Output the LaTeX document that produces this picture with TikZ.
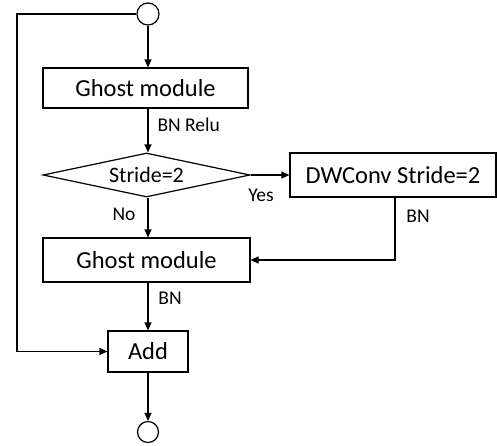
\documentclass[tikz,border=0pt]{standalone}
\usepackage{fontspec}
\setmainfont{Carlito}
\usetikzlibrary{shapes.geometric,arrows.meta}
\begin{document}
\begin{tikzpicture}[x=1pt,y=-1pt,
  line width=1.2pt,
  arr/.style={-{Triangle[length=8pt,width=7pt]}},
  blk/.style={draw,rectangle,inner sep=0pt,font=\fontsize{24.5}{28}\selectfont},
  term/.style={draw,circle,inner sep=0pt},
  lbl/.style={font=\fontsize{19.5}{22}\selectfont,inner sep=0pt}]
\useasboundingbox (0,0) rectangle (497,445);

% terminals and blocks
\node[term,minimum size=22pt] (top) at (148,14) {};
\node[blk,minimum width=205pt,minimum height=40pt] (g1) at (145.5,88) {Ghost module};
\node[draw,diamond,aspect=4.7,inner sep=0pt,minimum width=207pt,minimum height=44pt,
      font=\fontsize{22}{26}\selectfont] (dia) at (146.5,175) {Stride=2};
\node[blk,minimum width=206pt,minimum height=44pt] (dw) at (393,175) {DWConv Stride=2};
\node[blk,minimum width=207pt,minimum height=44pt] (g2) at (146.5,260) {Ghost module};
\node[blk,minimum width=80pt,minimum height=41pt] (add) at (148,351.5) {Add};
\node[term,minimum size=21pt] (bot) at (148,432) {};

% shortcut path
\coordinate (lft) at (17,14);
\draw[arr] (top.west) -- (lft) |- (add.west);

% main path
\draw[arr] (top) -- (g1.north -| top);
\draw[arr] (g1.south -| top) -- (dia.north -| top);
\node[lbl,anchor=west] (l1) at (157,125) {BN Relu};
\draw[arr] (dia.east) -- (dw.west);
\node[lbl] (l2) at (261,195) {Yes};
\draw[arr] (dia.south -| top) -- (g2.north -| top);
\node[lbl] (l3) at (124,214) {No};
\draw[arr] ([xshift=2pt]dw.south) |- (g2.east);
\node[lbl] (l4) at (418,216) {BN};
\draw[arr] (g2.south -| top) -- (add.north);
\node[lbl] (l5) at (170,298) {BN};
\draw[arr] (add) -- (bot);
\end{tikzpicture}
\end{document}
